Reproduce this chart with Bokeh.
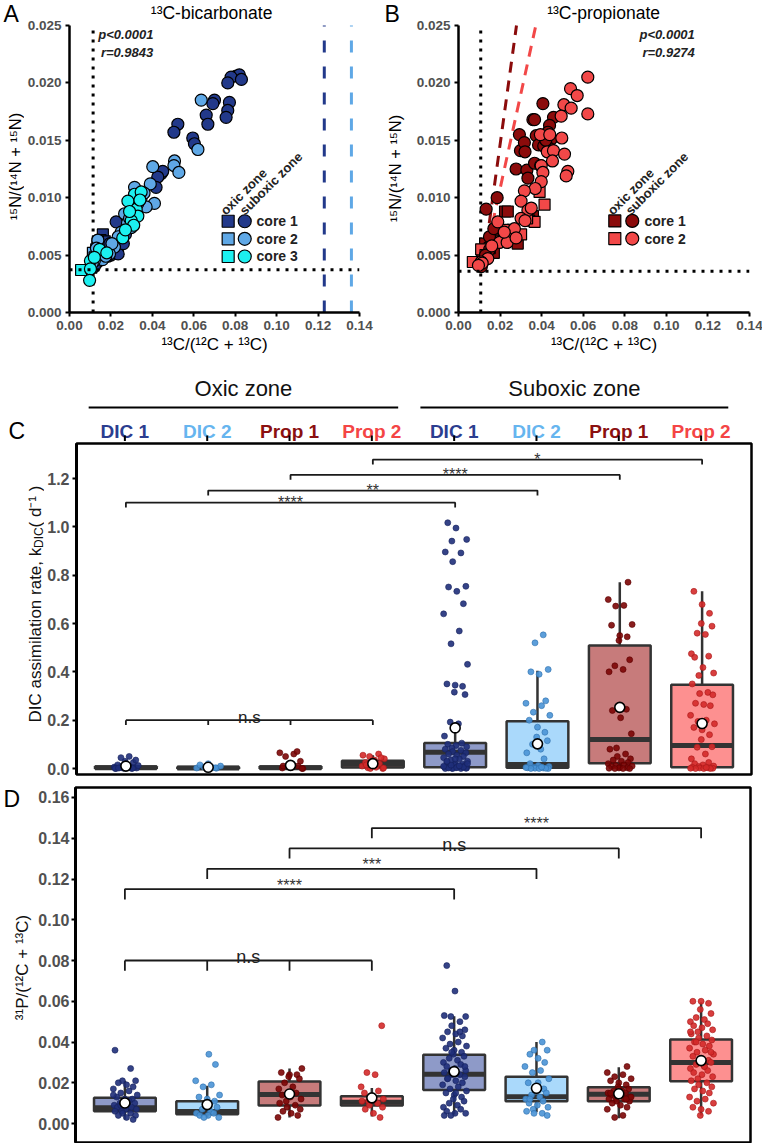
import math
from bokeh.plotting import figure
from bokeh.layouts import column, row
from bokeh.models import FixedTicker, Range1d, NumeralTickFormatter, Span
from bokeh.core.properties import value
from bokeh.embed import file_html
from bokeh.resources import INLINE

FONT = "Liberation Sans"
TICK_GRAY = "#505050"

# ---------------- Panel A : 13C-bicarbonate ----------------
a_c1_sq_x = [0.0161, 0.0150, 0.0135, 0.0125, 0.0118, 0.0113, 0.0145, 0.0170, 0.0128, 0.0108]
a_c1_sq_y = [0.0068, 0.0063, 0.0058, 0.0052, 0.0048, 0.0045, 0.0055, 0.0062, 0.0047, 0.0042]
a_c2_sq_x = [0.0137, 0.0129, 0.0113, 0.0121, 0.0105]
a_c2_sq_y = [0.0062, 0.0055, 0.0052, 0.0048, 0.0042]
a_c3_sq_x = [0.0056, 0.0105]
a_c3_sq_y = [0.0037, 0.0039]
a_c1_ci_x = [0.0805, 0.0820, 0.0780, 0.0830, 0.0764, 0.0700, 0.0692, 0.0772, 0.0764, 0.0756,
             0.0660, 0.0668, 0.0595, 0.0603, 0.0523, 0.0504, 0.0443, 0.0450, 0.0426, 0.0418,
             0.0225, 0.0300, 0.0320, 0.0270, 0.0250, 0.0240, 0.0225, 0.0210, 0.0200, 0.0185,
             0.0170, 0.0160, 0.0150, 0.0140, 0.0130, 0.0120, 0.0235, 0.0260, 0.0195]
a_c1_ci_y = [0.0206, 0.0207, 0.0205, 0.0203, 0.0200, 0.0185, 0.0182, 0.0183, 0.0176, 0.0170,
             0.0172, 0.0164, 0.0152, 0.0147, 0.0164, 0.0157, 0.0121, 0.0123, 0.0118, 0.0109,
             0.0079, 0.0090, 0.0085, 0.0068, 0.0063, 0.0058, 0.0055, 0.0052, 0.0050, 0.0049,
             0.0053, 0.0056, 0.0047, 0.0045, 0.0043, 0.0040, 0.0051, 0.0060, 0.0060]
a_c2_ci_x = [0.0636, 0.0620, 0.0507, 0.0504, 0.0528, 0.0402, 0.0390, 0.0410, 0.0370, 0.0346,
             0.0314, 0.0266, 0.0298, 0.0217, 0.0193, 0.0137, 0.0130, 0.0145, 0.0160, 0.0175,
             0.0250, 0.0280, 0.0320, 0.0360, 0.0235, 0.0205, 0.0120, 0.0110, 0.0330, 0.0290]
a_c2_ci_y = [0.0185, 0.0142, 0.0132, 0.0128, 0.0122, 0.0127, 0.0112, 0.0095, 0.0092, 0.0100,
             0.0109, 0.0086, 0.0074, 0.0057, 0.0051, 0.0063, 0.0056, 0.0050, 0.0046, 0.0049,
             0.0070, 0.0078, 0.0088, 0.0104, 0.0066, 0.0060, 0.0045, 0.0043, 0.0095, 0.0082]
a_c3_ci_x = [0.0314, 0.0346, 0.0306, 0.0322, 0.0282, 0.0330, 0.0298, 0.0257, 0.0145, 0.0101,
             0.0101, 0.0097, 0.0290, 0.0310, 0.0270, 0.0180, 0.0120, 0.0340]
a_c3_ci_y = [0.0103, 0.0105, 0.0094, 0.0090, 0.0097, 0.0084, 0.0080, 0.0065, 0.0055, 0.0045,
             0.0038, 0.0028, 0.0088, 0.0076, 0.0072, 0.0052, 0.0048, 0.0098]
a_nat_c = 0.0114          # dotted natural-abundance lines
a_nat_n = 0.00372
a_label_c1 = 0.1230       # dashed label enrichment lines
a_label_c2 = 0.1361
a_stats = ["p<0.0001", "r=0.9843"]

# ---------------- Panel B : 13C-propionate ----------------
b_c1_sq_x = [0.0224, 0.0237, 0.0128, 0.0170, 0.0285, 0.0077, 0.0114, 0.0358, 0.0340, 0.0260, 0.0200, 0.0150]
b_c1_sq_y = [0.0088, 0.0088, 0.0060, 0.0052, 0.0060, 0.0044, 0.0048, 0.0084, 0.0080, 0.0072, 0.0064, 0.0056]
b_c2_sq_x = [0.0414, 0.0390, 0.0366, 0.0218, 0.0301, 0.0109, 0.0130, 0.0093, 0.0069, 0.0250, 0.0330, 0.0180]
b_c2_sq_y = [0.0094, 0.0105, 0.0079, 0.0072, 0.0068, 0.0055, 0.0050, 0.0044, 0.0044, 0.0066, 0.0082, 0.0062]
b_c1_ci_x = [0.0133, 0.0186, 0.0149, 0.0293, 0.0298, 0.0317, 0.0320, 0.0277, 0.0329, 0.0334,
             0.0358, 0.0366, 0.0374, 0.0385, 0.0366, 0.0406, 0.0457, 0.0438, 0.0430, 0.0446,
             0.0438, 0.0410, 0.0395, 0.0420, 0.0170, 0.0150, 0.0120, 0.0110, 0.0130]
b_c1_ci_y = [0.0090, 0.0100, 0.0066, 0.0155, 0.0141, 0.0148, 0.0140, 0.0125, 0.0124, 0.0117,
             0.0168, 0.0168, 0.0154, 0.0146, 0.0130, 0.0182, 0.0170, 0.0163, 0.0157, 0.0151,
             0.0143, 0.0145, 0.0128, 0.0150, 0.0073, 0.0055, 0.0045, 0.0040, 0.0050]
b_c2_ci_x = [0.0622, 0.0539, 0.0571, 0.0507, 0.0542, 0.0622, 0.0494, 0.0394, 0.0439, 0.0427,
             0.0457, 0.0452, 0.0510, 0.0497, 0.0526, 0.0518, 0.0398, 0.0406, 0.0398, 0.0369,
             0.0317, 0.0301, 0.0334, 0.0350, 0.0301, 0.0320, 0.0269, 0.0189, 0.0197, 0.0234,
             0.0277, 0.0141, 0.0109, 0.0114, 0.0096, 0.0160, 0.0220]
b_c2_ci_y = [0.0205, 0.0195, 0.0189, 0.0181, 0.0178, 0.0173, 0.0171, 0.0155, 0.0155, 0.0140,
             0.0141, 0.0132, 0.0138, 0.0152, 0.0123, 0.0119, 0.0128, 0.0122, 0.0114, 0.0108,
             0.0106, 0.0097, 0.0089, 0.0091, 0.0082, 0.0080, 0.0073, 0.0079, 0.0061, 0.0061,
             0.0065, 0.0047, 0.0044, 0.0043, 0.0041, 0.0058, 0.0070]
b_nat_c = 0.0107
b_nat_n = 0.0036
b_core1_line_x = [0.0123, 0.0279]
b_core1_line_y = [0.0045, 0.0250]
b_core2_line_x = [0.0124, 0.0372]
b_core2_line_y = [0.0045, 0.0250]
b_stats = ["p<0.0001", "r=0.9274"]

ab_x_ticks = [0.0, 0.02, 0.04, 0.06, 0.08, 0.10, 0.12, 0.14]
ab_y_ticks = [0.0, 0.005, 0.010, 0.015, 0.020, 0.025]
ab_y_max = 0.025

# ---------------- Panels C / D : box plots ----------------
cats = [1, 2, 3, 4, 5, 6, 7, 8]
cat_labels = ["DIC 1", "DIC 2", "Prop 1", "Prop 2", "DIC 1", "DIC 2", "Prop 1", "Prop 2"]
zones = ["Oxic zone", "Suboxic zone"]
zone_start = [0.56, 4.59]
zone_end = [4.32, 8.33]

c_q1 = [0.0, 0.0, 0.0, 0.004, 0.005, 0.003, 0.022, 0.005]
c_med = [0.003, 0.002, 0.003, 0.018, 0.067, 0.017, 0.120, 0.095]
c_q3 = [0.008, 0.006, 0.008, 0.032, 0.106, 0.196, 0.509, 0.347]
c_wlo = [0.0, 0.0, 0.0, 0.0, 0.0, 0.0, 0.0, 0.0]
c_whi = [0.015, 0.010, 0.015, 0.055, 0.190, 0.405, 0.771, 0.733]
c_mean = [0.010, 0.005, 0.013, 0.020, 0.168, 0.102, 0.253, 0.186]
c_pts = [
    [0.0, 0.0, 0.001, 0.002, 0.003, 0.004, 0.005, 0.006, 0.008, 0.010, 0.012, 0.015, 0.020,
     0.025, 0.030, 0.035, 0.045, 0.050, 0.0, 0.001, 0.002, 0.005],
    [0.0, 0.001, 0.002, 0.004, 0.006, 0.010, 0.015, 0.020, 0.003, 0.0],
    [0.0, 0.002, 0.005, 0.010, 0.020, 0.030, 0.050, 0.060, 0.065, 0.070, 0.010, 0.004, 0.0],
    [0.0, 0.003, 0.005, 0.010, 0.020, 0.025, 0.030, 0.040, 0.050, 0.055, 0.060, 0.0, 0.002,
     0.015, 0.035, 0.045],
    [1.017, 0.995, 0.948, 0.941, 0.896, 0.892, 0.856, 0.754, 0.751, 0.733, 0.682, 0.640, 0.569,
     0.516, 0.431, 0.350, 0.345, 0.340, 0.316, 0.306, 0.192, 0.185, 0.134, 0.105, 0.100, 0.095,
     0.090, 0.085, 0.080, 0.075, 0.070, 0.065, 0.060, 0.055, 0.050, 0.045, 0.040, 0.035, 0.030,
     0.025, 0.020, 0.018, 0.015, 0.012, 0.010, 0.008, 0.006, 0.005, 0.004, 0.003, 0.002, 0.001,
     0.0, 0.0, 0.0, 0.001, 0.002, 0.004, 0.006, 0.009, 0.011, 0.014, 0.020, 0.030, 0.040],
    [0.553, 0.520, 0.410, 0.400, 0.390, 0.280, 0.270, 0.260, 0.233, 0.220, 0.200, 0.171, 0.150,
     0.130, 0.115, 0.100, 0.080, 0.065, 0.040, 0.020, 0.012, 0.008, 0.005, 0.003, 0.002, 0.001,
     0.0, 0.0, 0.0, 0.001, 0.004, 0.006],
    [0.771, 0.699, 0.675, 0.672, 0.596, 0.593, 0.550, 0.545, 0.530, 0.450, 0.425, 0.410, 0.400,
     0.245, 0.240, 0.210, 0.144, 0.085, 0.080, 0.060, 0.050, 0.040, 0.035, 0.030, 0.025, 0.020,
     0.015, 0.012, 0.010, 0.008, 0.005, 0.003, 0.002, 0.0, 0.0, 0.0, 0.001],
    [0.733, 0.679, 0.642, 0.600, 0.589, 0.560, 0.555, 0.475, 0.465, 0.460, 0.418, 0.395, 0.385,
     0.350, 0.315, 0.310, 0.305, 0.270, 0.265, 0.260, 0.220, 0.200, 0.195, 0.185, 0.170, 0.160,
     0.140, 0.120, 0.090, 0.088, 0.060, 0.040, 0.025, 0.020, 0.015, 0.010, 0.008, 0.005, 0.003,
     0.002, 0.001, 0.0, 0.0, 0.0, 0.001, 0.004],
]
c_brk_left = [1, 2, 3, 4]
c_brk_right = [5, 6, 7, 8]
c_brk_y = [1.100, 1.150, 1.215, 1.278]
c_brk_text = ["****", "**", "****", "*"]
c_ns_cats = [1, 2, 3, 4]
c_ns_y = 0.20
c_y_ticks = [0.0, 0.2, 0.4, 0.6, 0.8, 1.0, 1.2]

d_q1 = [0.0060, 0.0046, 0.0088, 0.0088, 0.0165, 0.0110, 0.0110, 0.0207]
d_med = [0.0078, 0.0059, 0.0142, 0.0105, 0.0242, 0.0132, 0.0144, 0.0300]
d_q3 = [0.0126, 0.0110, 0.0206, 0.0134, 0.0337, 0.0230, 0.0178, 0.0412]
d_wlo = [0.0020, 0.0030, 0.0030, 0.0035, 0.0044, 0.0055, 0.0026, 0.0039]
d_whi = [0.0210, 0.0186, 0.0270, 0.0175, 0.0526, 0.0400, 0.0276, 0.0595]
d_mean = [0.0101, 0.0093, 0.0145, 0.0126, 0.0255, 0.0173, 0.0146, 0.0309]
d_pts = [
    [0.036, 0.027, 0.021, 0.021, 0.020, 0.019, 0.018, 0.017, 0.016, 0.015, 0.014, 0.013, 0.012,
     0.012, 0.011, 0.010, 0.010, 0.009, 0.009, 0.008, 0.008, 0.007, 0.007, 0.006, 0.006, 0.005,
     0.005, 0.004, 0.004, 0.003, 0.002, 0.014, 0.011, 0.009],
    [0.034, 0.029, 0.021, 0.019, 0.018, 0.014, 0.013, 0.012, 0.011, 0.009, 0.008, 0.007, 0.006,
     0.005, 0.005, 0.004, 0.004, 0.003, 0.003],
    [0.027, 0.025, 0.024, 0.024, 0.023, 0.022, 0.020, 0.018, 0.017, 0.015, 0.014, 0.013, 0.012,
     0.011, 0.010, 0.009, 0.008, 0.007, 0.006, 0.005, 0.004, 0.003],
    [0.048, 0.025, 0.024, 0.018, 0.016, 0.015, 0.013, 0.012, 0.011, 0.011, 0.010, 0.009, 0.008,
     0.007, 0.005, 0.003],
    [0.0775, 0.065, 0.0525, 0.0525, 0.053, 0.050, 0.048, 0.046, 0.045, 0.044, 0.043, 0.042, 0.040,
     0.039, 0.038, 0.037, 0.036, 0.035, 0.034, 0.033, 0.032, 0.031, 0.030, 0.029, 0.028, 0.027,
     0.026, 0.026, 0.025, 0.024, 0.024, 0.023, 0.022, 0.021, 0.020, 0.019, 0.018, 0.017, 0.016,
     0.015, 0.014, 0.013, 0.012, 0.011, 0.010, 0.009, 0.008, 0.007, 0.006, 0.005, 0.005, 0.004,
     0.004, 0.045, 0.035, 0.028, 0.022, 0.015],
    [0.040, 0.036, 0.036, 0.034, 0.032, 0.030, 0.028, 0.026, 0.025, 0.022, 0.020, 0.018, 0.017,
     0.016, 0.015, 0.014, 0.013, 0.012, 0.011, 0.010, 0.009, 0.008, 0.007, 0.006, 0.005, 0.005,
     0.004, 0.012, 0.020],
    [0.028, 0.025, 0.024, 0.023, 0.022, 0.021, 0.020, 0.019, 0.018, 0.017, 0.016, 0.016, 0.015,
     0.015, 0.014, 0.014, 0.013, 0.013, 0.012, 0.012, 0.011, 0.011, 0.010, 0.009, 0.008, 0.007,
     0.004, 0.003, 0.013, 0.015, 0.017, 0.012],
    [0.060, 0.060, 0.059, 0.056, 0.054, 0.052, 0.051, 0.050, 0.049, 0.048, 0.047, 0.046, 0.045,
     0.044, 0.043, 0.042, 0.041, 0.040, 0.039, 0.038, 0.037, 0.036, 0.035, 0.034, 0.033, 0.032,
     0.031, 0.030, 0.030, 0.029, 0.028, 0.027, 0.026, 0.025, 0.024, 0.023, 0.022, 0.021, 0.020,
     0.019, 0.018, 0.017, 0.016, 0.015, 0.013, 0.012, 0.011, 0.010, 0.008, 0.007, 0.006, 0.004,
     0.035, 0.040, 0.028, 0.045],
]
d_brk_left = [1, 2, 3, 4]
d_brk_right = [5, 6, 7, 8]
d_brk_y = [0.115, 0.125, 0.135, 0.145]
d_brk_text = ["****", "***", "n.s", "****"]
d_ns_cats = [1, 2, 3, 4]
d_ns_y = 0.080
d_y_ticks = [0.0, 0.02, 0.04, 0.06, 0.08, 0.10, 0.12, 0.14, 0.16]

# ---------------- styles ----------------
NAVY, LBLUE, CYAN = "#22398a", "#5fa8e6", "#1cf0f0"
DRED, RED = "#8b0b0b", "#f24848"
CAT_COLORS = ["#2b3d8f", "#66b5ef", "#8b1010", "#f44545"] * 2
BOX_FILLS = ["#8e9ac8", "#aad9fb", "#c77b7b", "#fd9090"] * 2
PT_FILL = ["#1f2f7a", "#4a94d6", "#7c0606", "#d42a2a"] * 2
PT_EDGE = ["#15225c", "#2f70ad", "#5a0000", "#a81818"] * 2
JIT = [-0.12, 0.07, -0.03, 0.13, -0.08, 0.02, 0.10, -0.14, 0.05, -0.05, 0.15, -0.10,
       0.0, 0.09, -0.01, 0.12, -0.06, 0.04, -0.13, 0.08, -0.09, 0.01, 0.14, -0.04]
HW = 0.375
PPU = 675 / 8.2                                # pixels per category unit in C and D
CAT_RANGE = (0.4 - 75 / PPU, 8.6 + 12 / PPU)   # full-width strips aligned to C/D frames
AB_PX = ab_y_max / 287                          # data units per pixel in A/B (y)

N_LABEL = "\u00b9\u2075N/(\u00b9\u2074N + \u00b9\u2075N)"
C_LABEL = "\u00b9\u00b3C/(\u00b9\u00b2C + \u00b9\u00b3C)"
P_LABEL = "\u00b3\u00b9P/(\u00b9\u00b2C + \u00b9\u00b3C)"


def strip(fw, fh, xr=None, yr=None, bl=0, br=0, bt=0, bb=0):
    """Axis-less figure used as a text/ornament container (y measured downwards)."""
    p = figure(frame_width=fw, frame_height=fh, min_border_left=bl, min_border_right=br,
               min_border_top=bt, min_border_bottom=bb,
               x_range=Range1d(*(xr if xr else (0, fw))),
               y_range=Range1d(*(yr if yr else (fh, 0))),
               x_axis_location=None, y_axis_location=None,
               output_backend="svg", toolbar_location=None)
    p.grid.visible = False
    p.outline_line_color = None
    return p


def txt(p, x, y, text, size, angle=0.0, align="center", baseline="middle",
        style="normal", color="black"):
    p.text(x=[x], y=[y], text=[text], angle=angle, text_align=align, text_baseline=baseline,
           text_font=value(FONT), text_font_size=f"{size}px", text_font_style=style,
           text_color=color)


def style_axes(p, size, tick_out=4, standoff=4):
    for ax in p.axis:
        ax.axis_line_width = 3
        ax.axis_line_color = "black"
        ax.major_tick_line_width = 2
        ax.major_tick_line_color = "black"
        ax.major_tick_out = tick_out
        ax.major_tick_in = 0
        ax.minor_tick_out = 0
        ax.minor_tick_in = 0
        ax.major_label_standoff = standoff
        ax.major_label_text_font = FONT
        ax.major_label_text_font_style = "bold"
        ax.major_label_text_font_size = f"{size}px"
        ax.major_label_text_color = TICK_GRAY


def scatter_panel(left, fw, right, title, title_x, stats, stats_x, stats_align):
    # frame reaches the top of the page so the panel title sits inside it;
    # the y axis itself is bounded to 0..0.025
    p = figure(frame_width=fw, frame_height=312,
               min_border_left=left, min_border_right=right, min_border_top=0,
               min_border_bottom=53, x_range=Range1d(0, 0.14),
               y_range=Range1d(0, ab_y_max + 25 * AB_PX),
               output_backend="svg", toolbar_location=None)
    p.outline_line_color = None
    p.grid.visible = False
    p.xaxis.ticker = FixedTicker(ticks=ab_x_ticks)
    p.xaxis.formatter = NumeralTickFormatter(format="0.00")
    p.yaxis.ticker = FixedTicker(ticks=ab_y_ticks)
    p.yaxis.formatter = NumeralTickFormatter(format="0.000")
    p.yaxis.bounds = (0, ab_y_max)
    style_axes(p, 13.5)
    p.axis.axis_line_width = 2.5
    p.xaxis.axis_label = C_LABEL
    p.xaxis.axis_label_text_font = FONT
    p.xaxis.axis_label_text_font_style = "normal"
    p.xaxis.axis_label_text_font_size = "17px"
    p.xaxis.axis_label_text_color = "black"
    p.xaxis.axis_label_standoff = 2
    txt(p, title_x, ab_y_max + 13 * AB_PX, title, 17.5)
    txt(p, stats_x, 0.02425, stats[0], 13, align=stats_align, style="bold italic", color="#222222")
    txt(p, stats_x + (0.0013 if stats_align == "left" else 0.0), 0.02267, stats[1], 13,
        align=stats_align, style="bold italic", color="#222222")
    return p


def legend(p, sq_x, ci_x, txt_x, rows_y, colors, names, ox, sx, zy):
    p.scatter(x=[sq_x] * len(rows_y), y=rows_y, marker="square", size=12,
              fill_color=colors, line_color="black", line_width=1.2)
    p.scatter(x=[ci_x] * len(rows_y), y=rows_y, marker="circle", size=13,
              fill_color=colors, line_color="black", line_width=1.2)
    p.text(x=[txt_x] * len(rows_y), y=rows_y, text=names, text_font=value(FONT),
           text_font_size="14px", text_font_style="bold", text_baseline="middle",
           text_color="#222222")
    p.text(x=[ox, sx], y=[zy, zy], text=["oxic zone", "suboxic zone"], angle=math.pi / 4,
           text_font=value(FONT), text_font_size="13px", text_font_style="bold",
           text_baseline="alphabetic", text_color="#222222")


# ---------- Panel A ----------
pA = scatter_panel(44, 290, 23, "\u00b9\u00b3C-bicarbonate", 0.0686, a_stats, 0.01385, "left")
pA.line(x=[a_nat_c, a_nat_c], y=[0, ab_y_max], line_color="black", line_width=3, line_dash="3 6")
pA.add_layout(Span(location=a_nat_n, dimension="width", line_color="black", line_width=3,
                   line_dash="3 6"))
pA.line(x=[a_label_c1, a_label_c1], y=[0, ab_y_max], line_color=NAVY, line_width=3, line_dash="12 14")
pA.line(x=[a_label_c2, a_label_c2], y=[0, ab_y_max], line_color=LBLUE, line_width=3, line_dash="12 14")
for xs, ys, col in [(a_c1_sq_x, a_c1_sq_y, NAVY), (a_c2_sq_x, a_c2_sq_y, LBLUE), (a_c3_sq_x, a_c3_sq_y, CYAN)]:
    pA.scatter(x=xs, y=ys, marker="square", size=11, fill_color=col, line_color="black", line_width=1.2)
for xs, ys, col in [(a_c1_ci_x, a_c1_ci_y, NAVY), (a_c2_ci_x, a_c2_ci_y, LBLUE), (a_c3_ci_x, a_c3_ci_y, CYAN)]:
    pA.scatter(x=xs, y=ys, marker="circle", size=12, fill_color=col, line_color="black", line_width=1.2)
legend(pA, 0.0766, 0.0846, 0.0903, [0.00795, 0.00642, 0.00488], [NAVY, LBLUE, CYAN],
       ["core 1", "core 2", "core 3"], 0.0740, 0.0832, 0.0087)

# ---------- Panel B ----------
pB = scatter_panel(52, 291, 14, "\u00b9\u00b3C-propionate", 0.0698, b_stats, 0.1137, "right")
pB.line(x=[b_nat_c, b_nat_c], y=[0, ab_y_max], line_color="black", line_width=3, line_dash="3 6")
pB.add_layout(Span(location=b_nat_n, dimension="width", line_color="black", line_width=3,
                   line_dash="3 6"))
pB.line(x=b_core1_line_x, y=b_core1_line_y, line_color=DRED, line_width=3, line_dash="11 8")
pB.line(x=b_core2_line_x, y=b_core2_line_y, line_color=RED, line_width=3, line_dash="11 8")
for xs, ys, col in [(b_c1_sq_x, b_c1_sq_y, DRED), (b_c2_sq_x, b_c2_sq_y, RED)]:
    pB.scatter(x=xs, y=ys, marker="square", size=11, fill_color=col, line_color="black", line_width=1.2)
for xs, ys, col in [(b_c1_ci_x, b_c1_ci_y, DRED), (b_c2_ci_x, b_c2_ci_y, RED)]:
    pB.scatter(x=xs, y=ys, marker="circle", size=12, fill_color=col, line_color="black", line_width=1.2)
legend(pB, 0.0752, 0.0836, 0.0895, [0.00798, 0.00644], [DRED, RED],
       ["core 1", "core 2"], 0.0728, 0.0814, 0.0087)

# ---------- side strips for A and B (y in page pixels, frames match A/B) ----------
sLA = strip(24, 312, yr=(312, 0), bb=53)
txt(sLA, 3, 13.5, "A", 23, align="left")
txt(sLA, 14, 166, N_LABEL, 16.5, angle=math.pi / 2)
sLB = strip(24, 312, yr=(312, 0), bb=53)
txt(sLB, 2, 13.5, "B", 23, align="left")
txt(sLB, 12, 168, N_LABEL, 16.5, angle=math.pi / 2)

# ---------- Header (zones + category labels) ----------
pH = strip(762, 76, CAT_RANGE)
zone_mid = [(a + b) / 2 for a, b in zip(zone_start, zone_end)]
pH.text(x=zone_mid, y=[23, 23], text=zones, text_font=value(FONT), text_font_size="22px",
        text_align="center", text_baseline="middle", text_color="#111111")
pH.segment(x0=zone_start, y0=[42, 42], x1=zone_end, y1=[42, 42], line_color="black", line_width=2)
pH.text(x=cats, y=[66] * 8, text=cat_labels, text_color=CAT_COLORS, text_font=value(FONT),
        text_font_size="19px", text_font_style="bold", text_align="center", text_baseline="middle")
pH.segment(x0=cats, y0=[70] * 8, x1=cats, y1=[76] * 8, line_color="black", line_width=2)
txt(pH, 0.4 - 67 / PPU, 65, "C", 23, align="left")


def box_panel(p, q1, med, q3, wlo, whi, mean, pts):
    left = [c - HW for c in cats]
    right = [c + HW for c in cats]
    p.segment(x0=cats, y0=q3, x1=cats, y1=whi, line_color="#333333", line_width=2.5)
    p.segment(x0=cats, y0=wlo, x1=cats, y1=q1, line_color="#333333", line_width=2.5)
    p.quad(left=left, right=right, bottom=q1, top=q3, fill_color=BOX_FILLS,
           line_color="#333333", line_width=2.5)
    p.segment(x0=left, y0=med, x1=right, y1=med, line_color="#333333", line_width=5)
    for k, vals in enumerate(pts):
        xs = [cats[k] + JIT[(i + 5 * k) % len(JIT)] for i in range(len(vals))]
        p.scatter(x=xs, y=vals, size=6, fill_color=PT_FILL[k], line_color=PT_EDGE[k],
                  line_width=0.6, fill_alpha=0.9)
    p.scatter(x=cats, y=mean, size=10, fill_color="white", line_color="black", line_width=1.6)


def brackets(p, lefts, rights, ys, texts, drop, star_dy, ns_dy):
    for l, r, y, t in zip(lefts, rights, ys, texts):
        p.line(x=[l, l, r, r], y=[y - drop, y, y, y - drop], line_color="#1a1a1a", line_width=1.8)
        if t == "n.s":
            p.text(x=[(l + r) / 2], y=[y + ns_dy], text=[t], text_font=value(FONT),
                   text_font_size="18px", text_align="center", text_baseline="alphabetic",
                   text_color="#222222")
        else:
            p.text(x=[(l + r) / 2], y=[y + star_dy], text=[t], text_font=value(FONT),
                   text_font_size="16px", text_align="center", text_baseline="alphabetic",
                   text_color="#333333")


def ns_bracket(p, cs, y, drop, dy, size):
    p.line(x=[cs[0], cs[-1]], y=[y, y], line_color="#1a1a1a", line_width=1.8)
    p.segment(x0=cs, y0=[y] * len(cs), x1=cs, y1=[y - drop] * len(cs), line_color="#1a1a1a", line_width=1.8)
    p.text(x=[(cs[0] + cs[-1]) / 2], y=[y + dy], text=["n.s"], text_font=value(FONT),
           text_font_size=f"{size}px", text_align="center", text_baseline="alphabetic",
           text_color="#222222")


# ---------- Panel C ----------
pC = figure(frame_width=675, frame_height=331, min_border_left=31, min_border_right=12,
            min_border_top=2, min_border_bottom=4, x_range=Range1d(0.4, 8.6),
            y_range=Range1d(-0.0248, 1.3449), x_axis_location=None,
            output_backend="svg", toolbar_location=None)
pC.grid.visible = False
pC.outline_line_color = "black"
pC.outline_line_width = 2.5
pC.yaxis.ticker = FixedTicker(ticks=c_y_ticks)
pC.yaxis.formatter = NumeralTickFormatter(format="0.0")
style_axes(pC, 16, tick_out=4, standoff=3)
box_panel(pC, c_q1, c_med, c_q3, c_wlo, c_whi, c_mean, c_pts)
brackets(pC, c_brk_left, c_brk_right, c_brk_y, c_brk_text, 0.02, 0.0, 0.012)
ns_bracket(pC, c_ns_cats, c_ns_y, 0.02, 0.012, 17)

# y measured in page pixels, frame aligned with panel C's frame
sLC = strip(44, 331, yr=(774, 443), bt=2, bb=4)
txt(sLC, 35, 722, "DIC assimilation rate, k", 17, angle=math.pi / 2, align="left",
    baseline="alphabetic", color="#111111")
txt(sLC, 38, 547.5, "DIC", 12, angle=math.pi / 2, align="left", baseline="alphabetic",
    color="#111111")
txt(sLC, 35, 527, " ( d\u207b\u00b9 )", 17, angle=math.pi / 2, align="left",
    baseline="alphabetic", color="#111111")

# ---------- Panel D ----------
pD = figure(frame_width=675, frame_height=355, min_border_left=41, min_border_right=12,
            min_border_top=9, min_border_bottom=1, x_range=Range1d(0.4, 8.6),
            y_range=Range1d(-0.0093, 0.1649), x_axis_location=None,
            output_backend="svg", toolbar_location=None)
pD.grid.visible = False
pD.outline_line_color = "black"
pD.outline_line_width = 2.5
pD.yaxis.ticker = FixedTicker(ticks=d_y_ticks)
pD.yaxis.formatter = NumeralTickFormatter(format="0.00")
style_axes(pD, 16, tick_out=4, standoff=2)
box_panel(pD, d_q1, d_med, d_q3, d_wlo, d_whi, d_mean, d_pts)
brackets(pD, d_brk_left, d_brk_right, d_brk_y, d_brk_text, 0.005, 0.002, 0.0016)
ns_bracket(pD, d_ns_cats, d_ns_y, 0.005, 0.0018, 18)

sLD = strip(34, 355, yr=(1142, 787), bt=9, bb=1)
txt(sLD, 3, 798, "D", 23, align="left")
txt(sLD, 22, 967, P_LABEL, 17, angle=math.pi / 2, color="#111111")

sTick = strip(762, 5, CAT_RANGE)
sTick.segment(x0=cats, y0=[0] * 8, x1=cats, y1=[5] * 8, line_color="black", line_width=2)

layout = column(
    row(sLA, pA, sLB, pB),
    pH,
    row(sLC, pC),
    row(sLD, pD),
    sTick,
)
open("out.html", "w").write(file_html(layout, INLINE))
